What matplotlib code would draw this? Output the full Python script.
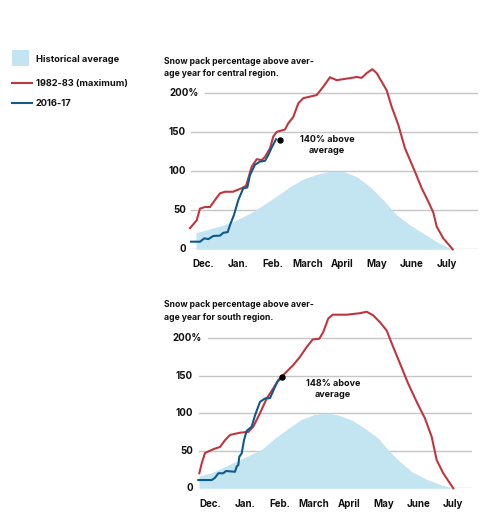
import matplotlib
matplotlib.use("Agg")
import matplotlib.pyplot as plt
from matplotlib.transforms import offset_copy
from matplotlib.patches import Rectangle
from matplotlib.lines import Line2D

plt.rcParams['font.family'] = ['Inter', 'DejaVu Sans']

# ---------------- data (x = months since early December) ----------------
months = ["Dec.", "Jan.", "Feb.", "March", "April", "May", "June", "July"]
y_ticks = [0, 50, 100, 150, 200]

central_avg_x = [-0.216, -0.216, 0.187, 0.570, 0.956, 1.339, 1.721, 2.107, 2.490, 2.873, 3.259, 3.641, 4.024, 4.410, 4.793, 5.176, 5.561, 5.944, 6.327, 6.713, 7.096, 7.19]
central_avg_y = [0, 21.3, 26, 31, 37.4, 46, 56.6, 68, 80, 89.8, 95.8, 99.5, 99.5, 92.7, 80, 63, 43.8, 31, 20.4, 9.7, 1.3, 0]

central_max_x = [-0.389, -0.196, -0.101, 0.043, 0.187, 0.331, 0.475, 0.619, 0.849, 1.10, 1.223, 1.29, 1.387, 1.531, 1.675, 1.770, 1.914, 2.009, 2.107, 2.346, 2.441, 2.585, 2.729, 2.873, 3.259, 3.448, 3.641, 3.834, 4.122, 4.410, 4.554, 4.698, 4.859, 4.986, 5.130, 5.273, 5.417, 5.607, 5.800, 5.944, 6.088, 6.281, 6.471, 6.615, 6.713, 6.903, 7.173]
central_max_y = [27, 37, 52, 54, 54, 63, 71.5, 73.5, 73.5, 78, 81, 90.7, 105.5, 115, 114, 118, 129, 144, 150, 153, 161, 169, 186.5, 193, 197, 207.7, 219.7, 216, 218, 220, 219, 225, 230, 225, 214, 203, 182, 159, 129, 114, 99, 78, 61, 47, 29, 14, 0]

central_cur_x = [-0.360, -0.101, 0.023, 0.138, 0.282, 0.475, 0.570, 0.697, 0.763, 0.878, 1.002, 1.146, 1.261, 1.339, 1.482, 1.626, 1.770, 1.865, 1.963, 2.087]
central_cur_y = [9.7, 9.7, 14, 13, 17, 17.5, 21, 22, 31, 44, 63, 78, 79, 95, 108, 112, 113, 120.4, 130, 140.5]
central_dot = (2.202, 140)
central_note = "140% above\naverage"

south_avg_x = [-0.317, -0.317, 0.049, 0.527, 1.008, 1.489, 1.872, 2.255, 2.641, 3.024, 3.407, 3.695, 4.081, 4.464, 4.847, 5.135, 5.423, 5.809, 6.287, 6.673, 7.007]
south_avg_y = [0, 16.4, 20.8, 31, 41.2, 51.9, 66.5, 79.8, 91.8, 98.5, 100, 97.5, 90.9, 79.8, 66.5, 51, 37.7, 22, 11, 4.4, 0]

south_max_x = [-0.308, -0.239, -0.144, 0.095, 0.288, 0.432, 0.576, 0.864, 1.103, 1.247, 1.440, 1.633, 1.823, 1.967, 2.160, 2.399, 2.592, 2.785, 2.958, 3.148, 3.263, 3.407, 3.534, 3.937, 4.320, 4.513, 4.703, 4.896, 5.089, 5.233, 5.472, 5.711, 5.953, 6.192, 6.385, 6.529, 6.719, 7.007]
south_max_y = [20, 33, 47, 52, 55, 64, 71, 74, 75, 82, 100, 119.5, 133, 144, 153, 164, 175, 188, 198, 199, 208, 226, 231, 231, 233, 235, 230, 221, 210, 193, 166, 139, 115, 93, 68.5, 37.6, 20, 0]

south_cur_x = [-0.337, 0.049, 0.144, 0.239, 0.383, 0.461, 0.720, 0.769, 0.815, 0.844, 0.913, 0.979, 1.057, 1.201, 1.296, 1.440, 1.584, 1.728, 1.852, 1.950, 2.016]
south_cur_y = [11, 11, 14, 20, 20, 23, 22, 29, 31, 42, 46.5, 64, 76.5, 82, 97, 115, 119.5, 120, 133, 142.5, 145]
south_dot = (2.074, 148)
south_note = "148% above\naverage"

title_central = "Snow pack percentage above aver-\nage year for central region."
title_south = "Snow pack percentage above aver-\nage year for south region."
legend_labels = ["Historical average", "1982-83 (maximum)", "2016-17"]

# ---------------- style ----------------
RED = "#c0363e"
BLUE = "#0f5a8c"
FILL = "#c2e5f1"
GRID = "#c6c6c6"
TXT = "#111111"
FW = 'bold'

W, H = 490, 516
fig = plt.figure(figsize=(W / 100, H / 100), dpi=100)


def px_axes(left, right, y0, ppu, ymax=240):
    return fig.add_axes([left / W, 1 - y0 / H, (right - left) / W, ymax * ppu / H])


def draw_panel(ax, xlim, grid_start200, label_off, pct_off, avg, mx, cur, dot, note,
               note_xy, tick_off):
    ax.set_xlim(*xlim)
    ax.set_ylim(0, 240)
    ax.axis("off")
    ytr = ax.get_yaxis_transform()
    for v in y_ticks:
        xmin = grid_start200 if v == 200 else 0.004
        ax.axhline(v, xmin=xmin, xmax=1, color=GRID, lw=1.0, zorder=0)
        if v == 200:
            t = offset_copy(ytr, fig=fig, x=pct_off, y=0, units='dots')
            lbl = "200%"
        else:
            t = offset_copy(ytr, fig=fig, x=label_off, y=0, units='dots')
            lbl = str(v)
        ax.text(0, v, lbl, transform=t, ha='right', va='center',
                fontsize=7.0, fontweight=FW, color=TXT)
    ax.fill_between(avg[0], avg[1], 0, color=FILL, lw=0, zorder=1)
    ax.plot(mx[0], mx[1], color=RED, lw=1.5, zorder=3, clip_on=False,
            solid_joinstyle='round')
    ax.plot(cur[0], cur[1], color=BLUE, lw=1.5, zorder=4, clip_on=False,
            solid_joinstyle='round')
    ax.plot([dot[0]], [dot[1]], 'o', color='black', ms=3.6, zorder=5, clip_on=False)
    ax.text(note_xy[0], note_xy[1], note, ha='center', va='center', fontsize=6.5,
            fontweight=FW, color=TXT, linespacing=1.35)
    xtr = offset_copy(ax.get_xaxis_transform(), fig=fig, x=0, y=tick_off, units='dots')
    for i, m in enumerate(months):
        ax.text(i, 0, m, transform=xtr, ha='center', va='center', fontsize=7.0,
                fontweight=FW, color=TXT)


# top panel (central)
ax1 = px_axes(190, 478.3, 249.3, 0.783)
draw_panel(ax1, ((190 - 203.5) / 34.74, (478.3 - 203.5) / 34.74), 0.052, -4, 9,
           (central_avg_x, central_avg_y), (central_max_x, central_max_y),
           (central_cur_x, central_cur_y), central_dot, central_note, (3.555, 133), -15)

# bottom panel (south)
ax2 = px_axes(198, 471.7, 488.3, 0.7515)
draw_panel(ax2, ((198 - 210) / 34.72, (471.7 - 210) / 34.72), 0.038, -5, 4,
           (south_avg_x, south_avg_y), (south_max_x, south_max_y),
           (south_cur_x, south_cur_y), south_dot, south_note, (3.543, 132.4), -16)

# titles
fig.text(164 / W, 1 - 67.5 / H, title_central, ha='left', va='center', fontsize=6.2,
         fontweight=FW, color=TXT, linespacing=1.45)
fig.text(164 / W, 1 - 311 / H, title_south, ha='left', va='center', fontsize=6.2,
         fontweight=FW, color=TXT, linespacing=1.45)

# legend
fig.patches.append(Rectangle((12 / W, 1 - 66 / H), 16.7 / W, 16 / H,
                             transform=fig.transFigure, color=FILL, lw=0))
fig.lines.append(Line2D([12 / W, 32 / W], [1 - 82.7 / H] * 2, transform=fig.transFigure,
                        color=RED, lw=1.5))
fig.lines.append(Line2D([12 / W, 32 / W], [1 - 103.3 / H] * 2, transform=fig.transFigure,
                        color=BLUE, lw=1.5))
for lbl, yy in zip(legend_labels, [60, 83, 103.5]):
    fig.text(36 / W, 1 - yy / H, lbl, ha='left', va='center', fontsize=6.7,
             fontweight=FW, color=TXT)

fig.savefig("out.png", dpi=100, facecolor='white')
